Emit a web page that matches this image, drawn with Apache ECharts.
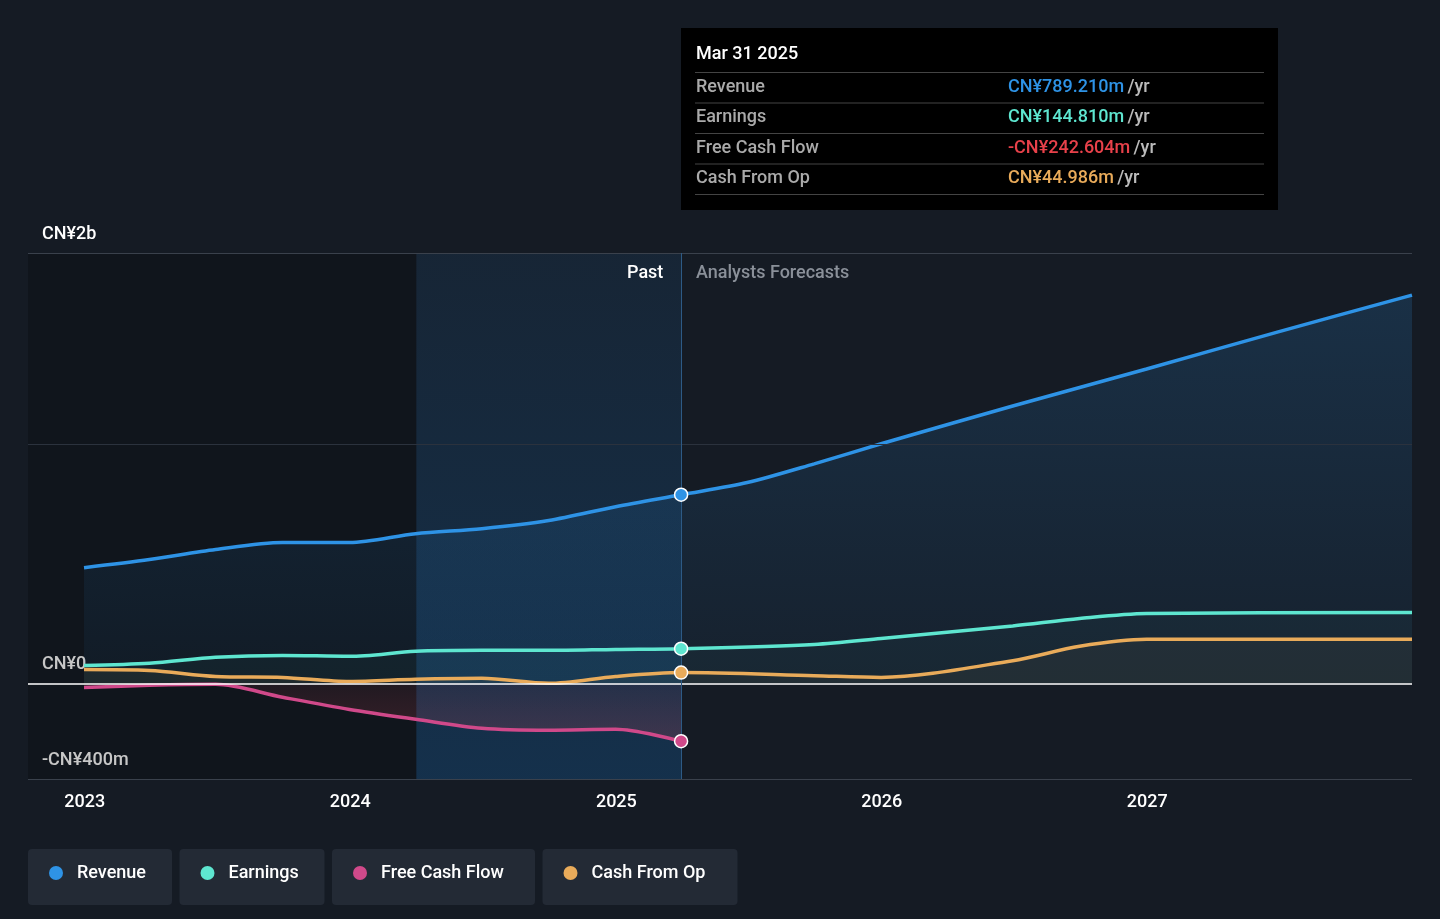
<!DOCTYPE html>
<html><head><meta charset="utf-8">
<script src="https://cdn.jsdelivr.net/npm/echarts@6/dist/echarts.min.js"></script>
<style>html,body{margin:0;background:#151b24}#c{width:1440px;height:919px}</style>
</head><body><div id="c"></div>
<script>
// values in CN¥ millions
var revenue = [['2022-12-31',484],['2023-03-31',518],['2023-06-30',560],['2023-09-30',589],['2023-12-31',589],['2024-03-31',626],['2024-06-30',647],['2024-09-30',681],['2024-12-31',739],['2025-03-31',789],['2025-06-30',840],['2025-09-30',918],['2025-12-31',1002],['2026-06-30',1160],['2026-12-31',1315],['2027-06-30',1470],['2027-12-31',1624]];
var earnings = [['2022-12-31',75],['2023-03-31',84],['2023-06-30',109],['2023-09-30',117],['2023-12-31',113],['2024-03-31',134],['2024-06-30',138],['2024-09-30',138],['2024-12-31',142],['2025-03-31',145],['2025-09-30',163],['2025-12-31',188],['2026-06-30',240],['2026-09-30',271],['2026-12-31',292],['2027-12-31',296]];
var freeCashFlow = [['2022-12-31',-17],['2023-03-31',-8],['2023-06-30',-4],['2023-09-30',-58],['2023-12-31',-109],['2024-03-31',-150],['2024-06-30',-188],['2024-09-30',-196],['2024-12-31',-192],['2025-03-31',-242]];
var cashFromOp = [['2022-12-31',58],['2023-03-31',54],['2023-06-30',29],['2023-09-30',25],['2023-12-31',8],['2024-03-31',17],['2024-06-30',21],['2024-09-30',0],['2024-12-31',29],['2025-03-31',45],['2025-09-30',32],['2025-12-31',25],['2026-06-30',95],['2026-09-30',155],['2026-12-31',184],['2027-12-31',184]];
var legendNames = ['Revenue','Earnings','Free Cash Flow','Cash From Op'];
var colors = ['#2e93e6','#5ee6d0','#d0498a','#e9ab5a'];
var tipRows = [['Revenue','CN¥789.210m','#2e93e6'],['Earnings','CN¥144.810m','#5ee6d0'],['Free Cash Flow','-CN¥242.604m','#e8414a'],['Cash From Op','CN¥44.986m','#e9ab5a']];

var chart = echarts.init(document.getElementById('c'));
function line(name, data, color, area, lastDot) {
  return {
    name: name, type: 'line', data: data, smooth: 0.3, showSymbol: false,
    lineStyle: {color: color, width: 3.5}, itemStyle: {color: color},
    areaStyle: area ? {color: area, origin: 0} : undefined,
    markPoint: lastDot ? {symbol: 'circle', symbolSize: 13, data: [{coord: lastDot}],
      itemStyle: {color: color, borderColor: '#fff', borderWidth: 1.5}, label: {show: false}} : undefined,
    z: 3
  };
}
var grad = function(c1, c2){ return new echarts.graphic.LinearGradient(0,0,0,1,[{offset:0,color:c1},{offset:1,color:c2}]); };

var graphics = [];
// tooltip box
graphics.push({type:'rect', left:681, top:28, shape:{width:597,height:182}, style:{fill:'#000'}});
graphics.push({type:'text', left:696, top:45, style:{text:'Mar 31 2025', fill:'#fff', font:'500 18px Roboto'}});
tipRows.forEach(function(r, i){
  var y = 72 + i*30.5;
  graphics.push({type:'rect', left:695, top:y, shape:{width:569,height:1}, style:{fill:'#444'}});
  graphics.push({type:'text', left:696, top:y+6, style:{text:r[0], fill:'#aaa', font:'500 18px Roboto'}});
  graphics.push({type:'text', left:1008, top:y+6, style:{rich:{a:{fill:r[2],font:'500 18px Roboto'},b:{fill:'#bbb',font:'500 18px Roboto'}}, text:'{a|'+r[1]+'} {b|/yr}'}});
});
graphics.push({type:'rect', left:695, top:194, shape:{width:569,height:1}, style:{fill:'#444'}});
graphics.push({type:'text', z:100, left:627, top:264, style:{text:'Past', fill:'#ffffff', font:'500 18px Roboto'}});
graphics.push({type:'text', z:100, left:696, top:264, style:{text:'Analysts Forecasts', fill:'#8a9099', font:'500 18px Roboto'}});
// legend buttons
var lx = 28, widths = [144,145,203,195];
legendNames.forEach(function(n, i){
  graphics.push({type:'rect', left:lx, top:849, shape:{width:widths[i],height:56,r:4}, style:{fill:'#232a35'}});
  graphics.push({type:'circle', left:lx+21, top:866, shape:{r:7}, style:{fill:colors[i]}});
  graphics.push({type:'text', left:lx+49, top:864, style:{text:n, fill:'#fff', font:'500 18px Roboto'}});
  lx += widths[i] + 7.5;
});

chart.setOption({
  backgroundColor: '#151b24',
  animation: false,
  grid: {left: 28, right: 28, top: 253, bottom: 140},
  xAxis: {
    type: 'time', min: '2022-10-15', max: '2027-12-31',
    axisLine: {show: false}, axisTick: {show: false}, splitLine: {show: false},
    axisLabel: {color: '#fff', fontSize: 18, fontWeight: 500, fontFamily: 'Roboto', margin: 14,
      formatter: function(v){ var d = new Date(v); return (d.getMonth()===0 && d.getDate()===1) ? String(d.getFullYear()) : ''; }},
    splitNumber: 6
  },
  yAxis: {
    type: 'value', min: -400, max: 1800, interval: 200,
    axisLine: {show: false}, axisTick: {show: false}, splitLine: {show: false},
    axisLabel: {inside: true, color: '#fff', fontSize: 18, fontWeight: 500, fontFamily: 'Roboto', verticalAlign: 'bottom', margin: 14, padding: [0,0,10,0],
      formatter: function(v){ return v === 1800 ? 'CN¥2b' : v === 0 ? 'CN¥0' : v === -400 ? '-CN¥400m' : ''; }}
  },
  graphic: graphics,
  series: [
    {type: 'line', data: [], silent: true,
     markArea: {silent: true, data: [
       [{xAxis: '2022-10-15', itemStyle: {color: 'rgba(0,0,0,0.22)'}}, {xAxis: '2024-04-01'}],
       [{xAxis: '2024-04-01', itemStyle: {color: grad('rgba(25,50,75,0.45)','rgba(20,70,115,0.5)')}}, {xAxis: '2025-03-31'}]
     ]},
     markLine: {silent: true, symbol: 'none', label: {show: false}, data: [
       {yAxis: 1800, lineStyle: {color: '#3a414c', width: 1, type: 'solid'}},
       {yAxis: 1000, lineStyle: {color: '#2b323d', width: 1, type: 'solid'}},
       {yAxis: -400, lineStyle: {color: '#3a414c', width: 1, type: 'solid'}},
       {yAxis: 0, lineStyle: {color: '#fff', width: 1.5, type: 'solid'}},
       {xAxis: '2025-03-31', lineStyle: {color: '#2d5a85', width: 1, type: 'solid'}}
     ]}},
    line('Revenue', revenue, colors[0], grad('rgba(46,147,230,0.25)','rgba(46,147,230,0.07)'), ['2025-03-31',789]),
    line('Earnings', earnings, colors[1], 'rgba(94,230,208,0.05)', ['2025-03-31',145]),
    line('Free Cash Flow', freeCashFlow, colors[2], grad('rgba(208,73,90,0.12)','rgba(208,73,90,0.32)'), ['2025-03-31',-242]),
    line('Cash From Op', cashFromOp, colors[3], 'rgba(233,171,90,0.07)', ['2025-03-31',45])
  ]
});
</script></body></html>
